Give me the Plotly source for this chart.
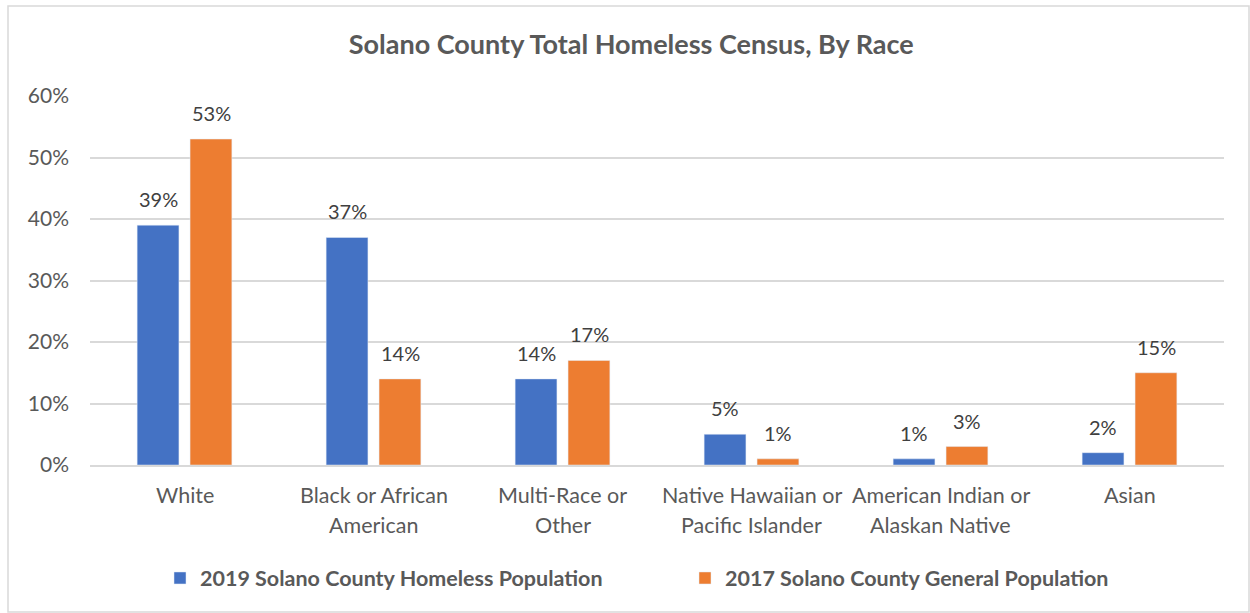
import plotly.graph_objects as go

# Census shares by race (fractions)
categories = ["White", "Black or African American", "Multi-Race or Other",
              "Native Hawaiian or Pacific Islander", "American Indian or Alaskan Native", "Asian"]
label_line1 = ["White", "Black or African", "Multi-Race or", "Native Hawaiian or", "American Indian or", "Asian"]
label_line2 = ["", "American", "Other", "Pacific Islander", "Alaskan Native", ""]
homeless_2019 = [0.39, 0.37, 0.14, 0.05, 0.01, 0.02]
general_2017 = [0.53, 0.14, 0.17, 0.01, 0.03, 0.15]
series_names = ["2019 Solano County Homeless Population", "2017 Solano County General Population"]
y_ticks = [0, 0.1, 0.2, 0.3, 0.4, 0.5, 0.6]

BLUE = "#4472C4"
ORANGE = "#ED7D31"
TEXT = "#595959"
FONT = "Lato, Carlito, Calibri, sans-serif"

W, H = 1250, 613
ML, MR, MT, MB = 90, 26, 96, 148
BAR_OFFSET = 26.5  # px from category centre to each bar centre

fig = go.Figure()
for name, vals, col in [(series_names[0], homeless_2019, BLUE), (series_names[1], general_2017, ORANGE)]:
    fig.add_trace(go.Bar(x=categories, y=vals, name=name, marker_color=col))

# value labels floating above each bar
for vals, dx in [(homeless_2019, -BAR_OFFSET), (general_2017, BAR_OFFSET)]:
    for cat, v in zip(categories, vals):
        fig.add_annotation(x=cat, y=v, xref="x", yref="y", xshift=dx, yshift=26,
                           text=f"{round(v*100)}%", showarrow=False, yanchor="middle",
                           font=dict(family=FONT, size=20, color="#404040"))

# two-line category labels under the axis
for cat, l1, l2 in zip(categories, label_line1, label_line2):
    fig.add_annotation(x=cat, xref="x", y=0, yref="y domain", yshift=-30, text=l1, showarrow=False,
                       font=dict(family=FONT, size=21.5, color=TEXT), yanchor="middle")
    if l2:
        fig.add_annotation(x=cat, xref="x", y=0, yref="y domain", yshift=-60, text=l2, showarrow=False,
                           font=dict(family=FONT, size=21.5, color=TEXT), yanchor="middle")

pw = W - ML - MR
ph = H - MT - MB
# outer chart border
fig.add_shape(type="rect", xref="paper", yref="paper",
              x0=(8 - ML) / pw, x1=(1249 - ML) / pw,
              y0=(H - MB - 612) / ph, y1=(H - MB - 6) / ph,
              line=dict(color="#D9D9D9", width=1.5), fillcolor="rgba(0,0,0,0)", layer="below")

fig.update_layout(
    width=W, height=H,
    margin=dict(l=ML, r=MR, t=MT, b=MB),
    paper_bgcolor="white", plot_bgcolor="white",
    title=dict(text="<b>Solano County Total Homeless Census, By Race</b>", x=0.505, xanchor="center",
               y=1 - 45 / H, yanchor="middle", font=dict(family=FONT, size=27, color=TEXT)),
    barmode="group", bargap=0.44, bargroupgap=0.21,
    showlegend=True,
    legend=dict(orientation="h", x=0.5 + 60 / W, xanchor="center", xref="container",
                y=(H - 578) / H, yref="container", yanchor="middle",
                font=dict(family=FONT, size=21.5, color=TEXT, weight="bold"),
                itemwidth=30, entrywidth=480, entrywidthmode="pixels"),
    font=dict(family=FONT, color=TEXT),
)
fig.update_xaxes(showticklabels=False, showgrid=False, showline=True, linecolor="#D9D9D9", linewidth=1.5)
fig.update_yaxes(range=[0, 0.6], tickvals=y_ticks, tickformat=".0%", showgrid=True,
                 gridcolor="#D9D9D9", gridwidth=1.5, zeroline=False, showline=False,
                 tickfont=dict(family=FONT, size=21, color=TEXT), ticklabelstandoff=20)

fig.write_html("out.html")
